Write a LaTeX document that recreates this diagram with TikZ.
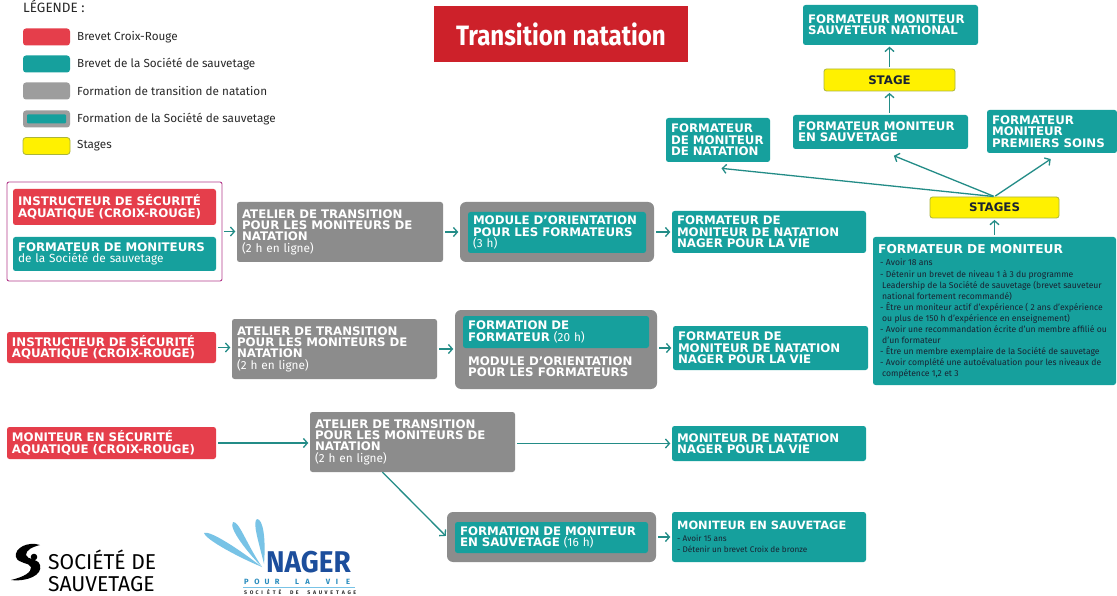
\documentclass[tikz,border=0pt]{standalone}
\usepackage{fontspec}
\usepackage{graphicx}
\setmainfont{Fira Sans}
\newfontfamily\hd{DejaVu Sans}
\usetikzlibrary{arrows.meta,calc}
\definecolor{cTeal}{RGB}{22,160,157}
\definecolor{cRed}{RGB}{229,62,75}
\definecolor{cTitle}{RGB}{205,33,42}
\definecolor{cGray}{RGB}{140,140,140}
\definecolor{cYel}{RGB}{255,241,0}
\definecolor{cYelB}{RGB}{170,180,60}
\definecolor{cFrame}{RGB}{180,60,140}
\definecolor{cArrow}{RGB}{35,140,135}
\definecolor{cDark}{RGB}{25,35,50}
\definecolor{cLeg}{RGB}{40,40,40}
\definecolor{cNager}{RGB}{28,78,156}
\definecolor{cPour}{RGB}{40,140,190}
\definecolor{cSplash}{RGB}{120,195,230}
\newlength\lbw
\newcommand\lb[1]{\makebox[\lbw][l]{#1}}
% name, x1, y1, x2, y2, style, text
\newcommand\bx[7]{%
  \pgfmathsetmacro\bxtw{#4-#2-10}%
  \pgfmathsetmacro\bxh{#5-#3}%
  \node[#6, text width=\bxtw pt, minimum height=\bxh pt] (#1) at ({(#2+#4)/2},{(#3+#5)/2}) {#7};}
\begin{document}
\begin{tikzpicture}[x=1pt,y=-1pt,
  bb/.style={inner xsep=5pt, inner ysep=0pt, align=left, text=white,
    font=\hd\bfseries\fontsize{11.8}{11.4}\selectfont},
  tealbox/.style={bb, fill=cTeal, rounded corners=2.5pt},
  redbox/.style={bb, fill=cRed, rounded corners=2.5pt},
  graybox/.style={bb, fill=cGray, rounded corners=2.5pt},
  outerbox/.style={bb, fill=cGray, rounded corners=6pt},
  yelbox/.style={bb, fill=cYel, draw=cYelB, line width=0.8pt, rounded corners=2.5pt,
    align=center, text=cDark},
  framebox/.style={bb, draw=cFrame, line width=0.9pt, rounded corners=2pt},
  swatch/.style={rounded corners=3pt, inner sep=0pt, minimum width=47pt, minimum height=17pt},
  leglabel/.style={anchor=west, inner sep=0pt, text=cLeg, font=\fontsize{11.7}{13}\selectfont},
  arr/.style={draw=cArrow, line width=1.3pt, -{Straight Barb[length=4pt,width=9pt]},
    shorten <=2pt, shorten >=1.5pt},
  listtxt/.style={anchor=north west, inner sep=0pt, align=left, text=cDark},
]
\useasboundingbox (0,0) rectangle (1117,596);
\fill[white] (0,0) rectangle (1117,596);

% ---------------- legend ----------------
\node[anchor=base west, inner sep=0pt, text=cLeg, font=\fontsize{13.5}{15}\selectfont] (legtitle) at (23,12.5) {LÉGENDE :};
\node[swatch, fill=cRed] (sw1) at (46.5,37) {};
\node[leglabel] (lg1) at (77,37) {Brevet Croix-Rouge};
\node[swatch, fill=cTeal] (sw2) at (46.5,64) {};
\node[leglabel] (lg2) at (77,64) {Brevet de la Société de sauvetage};
\node[swatch, fill=cGray!85] (sw3) at (46.5,91) {};
\node[leglabel] (lg3) at (77,91) {Formation de transition de natation};
\node[swatch, fill=cGray!85] (sw4) at (46.5,119) {};
\node[swatch, fill=cTeal, rounded corners=1pt, minimum width=39pt, minimum height=9pt] (sw4i) at (46.5,119) {};
\node[leglabel] (lg4) at (77,119) {Formation de la Société de sauvetage};
\node[swatch, fill=cYel, draw=cYelB, line width=0.8pt] (sw5) at (46.5,146) {};
\node[leglabel] (lg5) at (77,146) {Stages};

% ---------------- title ----------------
\node[fill=cTitle, minimum width=254pt, minimum height=56pt, inner sep=0pt, text=white,
  font=\bfseries\fontsize{28}{30}\selectfont] (title) at (561,34)
  {\scalebox{0.86}[1]{Transition natation}};

% ---------------- top right ----------------
\bx{fmsn}{803}{5}{978}{45}{tealbox}{FORMATEUR MONITEUR\\SAUVETEUR NATIONAL}
\bx{stage}{824}{69}{955}{91}{yelbox}{STAGE}
\bx{fmes}{793}{115}{968}{149}{tealbox}{FORMATEUR MONITEUR\\EN SAUVETAGE}
\bx{fmnt}{666}{118}{770}{162}{tealbox}{FORMATEUR\\DE MONITEUR\\DE NATATION}
\bx{fmps}{987}{110}{1117}{153}{tealbox}{FORMATEUR\\MONITEUR\\PREMIERS SOINS}
\bx{stages}{930}{197}{1059}{218}{yelbox}{STAGES}
\bx{fm}{873}{237}{1116}{385}{tealbox}{}
\node[anchor=west, inner sep=0pt, text=white, font=\hd\bfseries\fontsize{12.2}{14}\selectfont]
  (fmtitle) at (878,249) {FORMATEUR DE MONITEUR};
\node[listtxt, font=\fontsize{8.6}{11.1}\selectfont] (fmlist) at (880,259)
  {- Avoir 18 ans\\
   - Détenir un brevet de niveau 1 à 3 du programme\\
   \hspace*{2pt}Leadership de la Société de sauvetage (brevet sauveteur\\
   \hspace*{2pt}national fortement recommandé)\\
   - Être un moniteur actif d’expérience ( 2 ans d’expérience\\
   \hspace*{2pt}ou plus de 150 h d’expérience en enseignement)\\
   - Avoir une recommandation écrite d’un membre affilié ou\\
   \hspace*{2pt}d’un formateur\\
   - Être un membre exemplaire de la Société de sauvetage\\
   - Avoir complété une autoévaluation pour les niveaux de\\
   \hspace*{2pt}compétence 1,2 et 3};

% ---------------- row 1 ----------------
\bx{frame}{7}{182}{222}{281}{framebox}{}
\bx{red1}{13}{189}{216}{225}{redbox}{INSTRUCTEUR DE SÉCURITÉ\\AQUATIQUE (CROIX-ROUGE)}
\bx{teal1}{13}{237}{216}{271}{tealbox}{FORMATEUR DE MONITEURS\\{\normalfont de la Société de sauvetage}}
\bx{at1}{237}{202}{443}{262}{graybox}{ATELIER DE TRANSITION\\POUR LES MONITEURS DE\\NATATION\\{\normalfont (2 h en ligne)}}
\bx{mod1}{460}{202}{654}{262}{outerbox}{}
\bx{mod1i}{468}{212}{646}{253}{tealbox}{MODULE D’ORIENTATION\\POUR LES FORMATEURS\\{\normalfont (3 h)}}
\bx{fmn1}{672}{211}{866}{253}{tealbox}{FORMATEUR DE\\MONITEUR DE NATATION\\NAGER POUR LA VIE}

% ---------------- row 2 ----------------
\bx{red2}{7}{332}{216}{363}{redbox}{INSTRUCTEUR DE SÉCURITÉ\\AQUATIQUE (CROIX-ROUGE)}
\bx{at2}{232}{319}{437}{379}{graybox}{ATELIER DE TRANSITION\\POUR LES MONITEURS DE\\NATATION\\{\normalfont (2 h en ligne)}}
\bx{form2}{455}{310}{657}{389}{outerbox}{}
\bx{form2i}{463}{316}{649}{348}{tealbox}{FORMATION DE\\FORMATEUR {\normalfont (20 h)}}
\node[bb, anchor=west] (mod2) at (463,367) {MODULE D’ORIENTATION\\POUR LES FORMATEURS};
\bx{fmn2}{673}{326}{868}{370}{tealbox}{FORMATEUR DE\\MONITEUR DE NATATION\\NAGER POUR LA VIE}

% ---------------- row 3 ----------------
\bx{red3}{7}{427}{216}{459}{redbox}{MONITEUR EN SÉCURITÉ\\AQUATIQUE (CROIX-ROUGE)}
\bx{at3}{310}{412}{515}{472}{graybox}{ATELIER DE TRANSITION\\POUR LES MONITEURS DE\\NATATION\\{\normalfont (2 h en ligne)}}
\bx{mn3}{672}{426}{866}{461}{tealbox}{MONITEUR DE NATATION\\NAGER POUR LA VIE}
\bx{fms3}{447}{512}{656}{562}{outerbox}{}
\bx{fms3i}{455}{522}{648}{553}{tealbox}{FORMATION DE MONITEUR\\EN SAUVETAGE {\normalfont (16 h)}}
\bx{ms3}{672}{512}{866}{562}{tealbox}{}
\node[anchor=west, inner sep=0pt, text=white, font=\hd\bfseries\fontsize{11.4}{14}\selectfont]
  (ms3title) at (677,525) {MONITEUR EN SAUVETAGE};
\node[listtxt, font=\fontsize{8.2}{11}\selectfont] (ms3list) at (677,535)
  {- Avoir 15 ans\\- Détenir un brevet Croix de bronze};

% ---------------- connectors ----------------
\draw[arr] (frame.east) -- (frame.east -| at1.west);
\draw[arr] (at1.east) -- (at1.east -| mod1.west);
\draw[arr] (mod1.east) -- (mod1.east -| fmn1.west);
\draw[arr] (red2.east) -- (red2.east -| at2.west);
\draw[arr] (at2.east) -- (at2.east -| form2.west);
\draw[arr] (form2.east |- fmn2.west) -- (fmn2.west);
\draw[arr] (red3.east) -- (red3.east -| at3.west);
\draw[arr] (at3.east |- mn3.west) -- (mn3.west);
\draw[arr, shorten <=0pt] ([xshift=-30pt]at3.south) -- (fms3.west);
\draw[arr] (fms3.east |- ms3.west) -- (ms3.west);
\draw[arr] (fm.north -| stages.south) -- (stages.south);
\draw[arr, shorten <=1pt] (stages.north) -- ([xshift=2pt,yshift=-6pt]fmnt.south);
\draw[arr, shorten <=1pt] (stages.north) -- ([xshift=12pt,yshift=-6pt]fmes.south);
\draw[arr, shorten <=1pt] (stages.north) -- ([yshift=-5pt]fmps.south);
\draw[arr] (stage.south |- fmes.north) -- (stage.south);
\draw[arr] (stage.north) -- (stage.north |- fmsn.south);

% ---------------- logos ----------------
\fill[black] (40,545) .. controls (28,541) and (14,548) .. (16,557)
  .. controls (18,564) and (29,562) .. (31,567)
  .. controls (32,572) and (24,577) .. (11,580)
  .. controls (27,582) and (43,575) .. (40,565)
  .. controls (38,558) and (27,560) .. (26,555)
  .. controls (26,550) and (32,547) .. (40,545) -- cycle;
\fill[black] (34,557) circle (3.3pt);
\node[anchor=base west, inner sep=0pt, font=\fontsize{21.5}{22}\selectfont] (soc1) at (48,569.5)
  {\scalebox{0.98}[1]{SOCIÉTÉ DE}};
\node[anchor=base west, inner sep=0pt, font=\fontsize{21.5}{22}\selectfont] (soc2) at (48,591)
  {\scalebox{0.98}[1]{SAUVETAGE}};

\fill[cSplash] (204,533) .. controls (210,530) and (240,550) .. (262,567)
  .. controls (240,558) and (206,540) .. (204,533) -- cycle;
\fill[cSplash] (233,522) .. controls (239,521) and (246,543) .. (262,567)
  .. controls (248,553) and (228,528) .. (233,522) -- cycle;
\fill[cSplash] (257,519) .. controls (263,519) and (266,538) .. (264,564)
  .. controls (259,543) and (252,522) .. (257,519) -- cycle;
\node[anchor=base west, inner sep=0pt, text=cNager, font=\bfseries\fontsize{30}{32}\selectfont]
  (nager) at (266,572) {\scalebox{0.93}[1]{NAGER}};
\node[anchor=base west, inner sep=0pt, text=cPour, font=\bfseries\fontsize{7.6}{9}\selectfont]
  (pour) at (244,584.5) {\setlength\lbw{10.2pt}\lb{P}\lb{O}\lb{U}\lb{R}\lb{ }\lb{L}\lb{A}\lb{ }\lb{V}\lb{I}E};
\draw[cSplash, line width=0.7pt] (243,587) coordinate (ln1) -- (355,587) coordinate (ln2);
\node[anchor=base west, inner sep=0pt, text=cLeg, font=\bfseries\fontsize{5.2}{6}\selectfont]
  (socsmall) at (244,594) {\setlength\lbw{5.75pt}\lb{S}\lb{O}\lb{C}\lb{I}\lb{É}\lb{T}\lb{É}\lb{ }\lb{D}\lb{E}\lb{ }\lb{S}\lb{A}\lb{U}\lb{V}\lb{E}\lb{T}\lb{A}\lb{G}E};
\end{tikzpicture}
\end{document}
